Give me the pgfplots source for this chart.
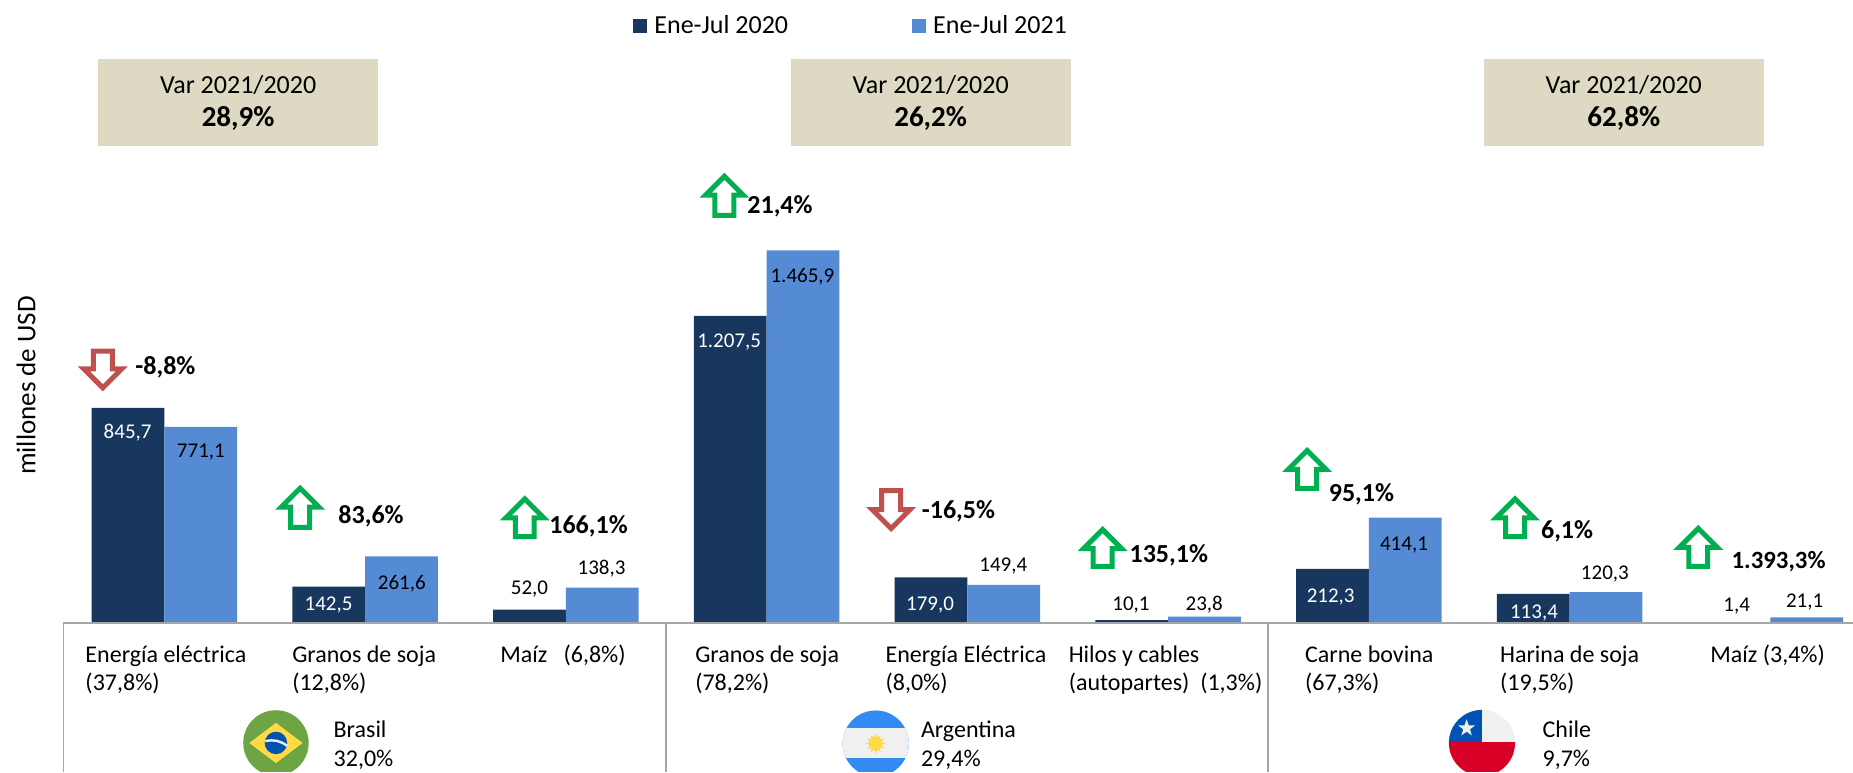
\documentclass[border=0pt]{standalone}
\usepackage{pgfplots}
\pgfplotsset{compat=1.18}
\usepackage{fontspec}
\setmainfont{Carlito}
\definecolor{dark}{HTML}{17375E}
\definecolor{light}{HTML}{558BD5}
\definecolor{boxc}{HTML}{DDD9C3}
\definecolor{grn}{HTML}{00B050}
\definecolor{rd}{HTML}{C0504D}
\definecolor{axg}{HTML}{A6A6A6}
\definecolor{fgreen}{HTML}{6DA544}
\definecolor{fyellow}{HTML}{FFDA44}
\definecolor{fblue}{HTML}{0052B4}
\definecolor{fsky}{HTML}{338AF3}
\definecolor{fwhite}{HTML}{F0F0F0}
\definecolor{fred}{HTML}{D80027}
\newcommand{\lab}[4][black]{\node[anchor=base,text=#1,font=\fontsize{10.5}{12}\selectfont,inner sep=0pt] at (#2,#3+6) {#4};}
\newcommand{\pct}[4][13]{\node[anchor=base,font=\fontsize{#1}{14}\selectfont\bfseries,inner sep=0pt] at (#2,#3+6.5) {#4};}
\newcommand{\cat}[4]{\node[anchor=base west,font=\fontsize{12}{14}\selectfont,inner sep=0pt] at (#1,#2) {#3};\node[anchor=base west,font=\fontsize{12}{14}\selectfont,inner sep=0pt] at (#1,#2+24.5) {#4};}
\newcommand{\uparr}[3]{\draw[grn,line width=2.5pt,fill=white,miter limit=10] (#1-8,#3-2) -- (#1-8,#2+19) -- (#1-16,#2+19) -- (#1,#2+3) -- (#1+16,#2+19) -- (#1+8,#2+19) -- (#1+8,#3-2) -- cycle;}
\newcommand{\downarr}[3]{\draw[rd,line width=2.5pt,fill=white,miter limit=10] (#1-8,#2+2) -- (#1-8,#3-19) -- (#1-16,#3-19) -- (#1,#3-3) -- (#1+16,#3-19) -- (#1+8,#3-19) -- (#1+8,#2+2) -- cycle;}
\newcommand{\varbox}[2]{\fill[boxc] (#1,50) rectangle (#1+237,123);
 \node[anchor=base,font=\fontsize{13}{14}\selectfont,inner sep=0pt] at (#1+118.5,79) {Var 2021/2020};
 \node[anchor=base,font=\fontsize{14.5}{14}\selectfont\bfseries,inner sep=0pt] at (#1+118.5,107) {#2};}
\begin{document}
\begin{tikzpicture}
\path[use as bounding box] (0,0) rectangle (926.5pt,386pt);
\begin{axis}[
  at={(0,0)},anchor=south west,
  width=926.5pt,height=386pt,scale only axis,
  axis lines=none,
  xmin=-0.8184,xmax=8.4116,
  ymin=-587.2,ymax=2451,
  ybar=0pt,bar width=36.4pt,
  xtick=\empty,ytick=\empty,
  legend columns=2,
  legend style={at={(536/1568,1-22/653)},anchor=west,draw=none,fill=none,inner sep=0pt,outer sep=0pt,
    font=\fontsize{13}{14}\selectfont,
    /tikz/column 1/.style={column sep=1.5pt},
    /tikz/column 2/.style={column sep=60pt},
    /tikz/column 3/.style={column sep=1.5pt}},
  legend image code/.code={\fill[#1] (0pt,-3.5pt) rectangle (7pt,3.5pt);},
]
\addplot[draw=none,fill=dark] coordinates {(0,845.7)(1,142.5)(2,52.0)(3,1207.5)(4,179.0)(5,10.1)(6,212.3)(7,113.4)(8,1.4)};
\addlegendentry{Ene-Jul 2020}
\addplot[draw=none,fill=light] coordinates {(0,771.1)(1,261.6)(2,138.3)(3,1465.9)(4,149.4)(5,23.8)(6,414.1)(7,120.3)(8,21.1)};
\addlegendentry{Ene-Jul 2021}
\end{axis}
\begin{scope}[shift={(0,385.9pt)},x=0.5909pt,y=-0.5909pt]
\draw[axg,line width=0.8pt] (53.5,527) -- (1568,527);
\draw[axg,line width=0.7pt] (53.5,527) -- (53.5,653);
\draw[axg,line width=0.7pt] (563.5,527) -- (563.5,653);
\draw[axg,line width=0.7pt] (1073,527) -- (1073,653);
\varbox{83}{28,9\%}
\varbox{669}{26,2\%}
\varbox{1255.5}{62,8\%}
\node[rotate=90,font=\fontsize{13.5}{14}\selectfont,inner sep=0pt] at (22,326) {millones de USD};
% value labels
\lab[white]{108}{365}{845,7}
\lab{170}{381}{771,1}
\lab[white]{278}{510}{142,5}
\lab{340}{493}{261,6}
\lab{448}{497}{52,0}
\lab{509}{480}{138,3}
\lab[white]{617}{288}{1.207,5}
\lab{679}{233}{1.465,9}
\lab[white]{787}{510}{179,0}
\lab{849}{477}{149,4}
\lab{957}{510}{10,1}
\lab{1019}{510}{23,8}
\lab[white]{1126}{503.5}{212,3}
\lab{1188}{460}{414,1}
\lab[white]{1298}{517.5}{113,4}
\lab{1358}{484}{120,3}
\lab{1469.5}{511}{1,4}
\lab{1527}{507.5}{21,1}
% percent labels
\pct{140}{310}{-8,8\%}
\pct{314}{436}{83,6\%}
\pct{498}{445}{166,1\%}
\pct{660}{174}{21,4\%}
\pct{811}{432}{-16,5\%}
\pct{989}{469.5}{135,1\%}
\pct{1152}{418}{95,1\%}
\pct{1326}{449}{6,1\%}
\pct[12.4]{1505}{474.5}{1.393,3\%}
% arrows
\downarr{87}{295}{331}
\uparr{254}{410}{448}
\uparr{444}{419}{456}
\uparr{613}{146}{184}
\downarr{754}{413}{450}
\uparr{933}{445}{481}
\uparr{1106}{378}{415}
\uparr{1282}{419}{456}
\uparr{1437}{444}{481}
% categories
\cat{72}{560}{Energía eléctrica}{(37,8\%)}
\cat{247}{560}{Granos de soja}{(12,8\%)}
\cat{423}{560}{Maíz\ \ \ (6,8\%)}{}
\cat{588}{560}{Granos de soja}{(78,2\%)}
\cat{749}{560}{Energía Eléctrica}{(8,0\%)}
\cat{904}{560}{Hilos y cables}{(autopartes)\ \ (1,3\%)}
\cat{1104}{560}{Carne bovina}{(67,3\%)}
\cat{1269}{560}{Harina de soja}{(19,5\%)}
\cat{1447}{560}{Maíz (3,4\%)}{}
\cat{282}{623.5}{Brasil}{32,0\%}
\cat{779}{623.5}{Argentina}{29,4\%}
\cat{1305}{623.5}{Chile}{9,7\%}
% flags
\begin{scope}
\clip (0,0) rectangle (1568,653);
% Brasil
\begin{scope}
\clip (233.5,628.5) circle (27.7);
\fill[fgreen] (200,595) rectangle (270,665);
\fill[fyellow] (233.5,611.5) -- (256,628.5) -- (233.5,645.5) -- (211,628.5) -- cycle;
\fill[fblue] (233.5,628.5) circle (9.5);
\draw[fwhite,line width=1.2pt] (224.5,627) to[bend left=25] (243,631);
\end{scope}
% Argentina
\begin{scope}
\clip (741,629) circle (28);
\fill[fsky] (710,595) rectangle (772,665);
\fill[fwhite] (710,616) rectangle (772,641);
\foreach \a in {0,30,...,330}{\fill[fyellow] ([shift={(\a-15:5)}]741,629) -- ([shift={(\a:8.5)}]741,629) -- ([shift={(\a+15:5)}]741,629) -- cycle;}
\fill[fyellow] (741,629) circle (5.5);
\end{scope}
% Chile
\begin{scope}
\clip (1254,628.5) circle (28);
\fill[fwhite] (1220,595) rectangle (1290,628);
\fill[fred] (1220,628) rectangle (1290,665);
\fill[fblue] (1220,595) rectangle (1254,628);
\fill[fwhite] (1241,608.5) -- (1242.8,613.6) -- (1248.1,613.7) -- (1243.9,616.9) -- (1245.4,622.1) -- (1241,619) -- (1236.6,622.1) -- (1238.1,616.9) -- (1233.9,613.7) -- (1239.2,613.6) -- cycle;
\end{scope}
\end{scope}
\end{scope}
\end{tikzpicture}
\end{document}
